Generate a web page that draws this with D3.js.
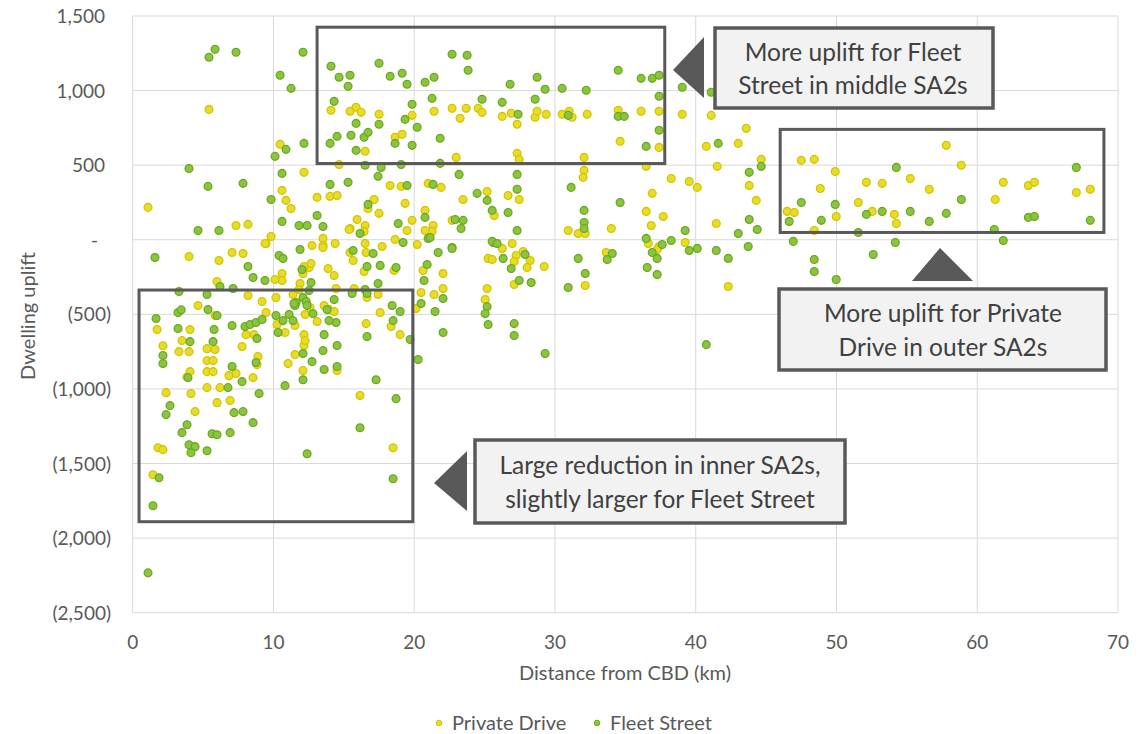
<!DOCTYPE html>
<html><head><meta charset="utf-8">
<script src="https://cdn.jsdelivr.net/npm/d3@7"></script>
<style>
html,body{margin:0;padding:0;background:#fff;}
svg{display:block;font-family:Lato,"Open Sans",sans-serif;}
</style></head>
<body><svg id="chart" width="1140" height="734"></svg>
<script>
// ---- data ----
const seriesNames = ["Private Drive", "Fleet Street"];
const xTicks = [0,10,20,30,40,50,60,70];
const yTicks = [1500,1000,500,0,-500,-1000,-1500,-2000,-2500];
const xTitle = "Distance from CBD (km)";
const yTitle = "Dwelling uplift";

// [distance km, dwelling uplift]
const privateDrive = [
[5.42,874],[14.09,868],[15.44,861],[15.87,888],[16.23,854],[17.50,841],[16.51,593],[10.47,640],[14.66,505],[12.17,452],[10.61,331],[10.89,264],[11.25,210],[13.10,284],[14.02,291],[14.52,297],[17.15,270],[16.72,210],[15.94,136],[16.51,96],[15.44,76],[16.44,56],[1.09,217],[7.34,96],[8.19,103],[9.83,22],[9.47,-25],[13.52,9],[13.52,-38],[14.38,-25],[12.74,-38],[17.50,177],
[19.85,834],[21.41,861],[22.69,881],[23.26,814],[23.69,881],[24.54,881],[24.82,854],[26.25,827],[26.89,848],[27.31,774],[28.59,821],[28.73,861],[29.37,841],[30.51,841],[31.01,861],[31.22,821],[32.29,841],[34.49,868],[36.12,861],[37.40,861],[39.04,841],[41.10,834],[34.63,660],[37.40,619],[40.75,626],[18.64,687],[19.14,707],[22.98,552],[27.31,579],[27.46,539],[32.07,552],[32.07,465],[32.00,418],[36.48,492],[38.26,411],[39.54,391],[40.11,351],[41.53,492],[18.29,364],[19.07,358],[20.99,378],[21.91,351],[19.35,244],[23.47,270],[26.67,297],[27.46,270],[25.68,163],[36.91,311],[36.48,190],[37.69,156],[36.84,96],[41.46,109],[19.49,62],[19.85,130],[20.77,197],[21.34,96],[21.27,56],[20.77,62],[22.69,130],[30.94,62],[31.65,42],[32.15,42],[34.00,76],[39.25,-18],[37.40,-45],[18.64,2],[17.72,-45],
[43.59,747],[43.02,646],[44.65,539],[43.80,364],[44.30,264],[47.50,532],[48.42,539],[49.91,458],[48.85,344],[52.12,385],[53.25,378],[55.24,411],[56.59,338],[57.80,633],[58.87,499],[51.55,250],[52.54,190],[54.11,170],[54.25,109],[49.98,156],[46.50,190],[47.00,183],[48.42,62],[61.85,385],[61.28,270],[63.63,364],[64.06,385],[67.04,317],[68.03,338],
[4.00,-112],[6.13,-139],[7.06,-85],[7.84,-92],[9.40,-25],[13.52,-52],[15.37,69],[16.51,-25],[15.44,-85],[15.66,-139],[16.58,-85],[20.21,-32],
[12.53,-186],[12.10,-226],[13.88,-193],[14.31,-240],[16.44,-213],[18.57,-206],[20.63,-206],[10.61,-226],[10.61,-273],[10.11,-266],[5.99,-280],[8.19,-374],[9.19,-414],[4.64,-441],[10.18,-387],[11.39,-367],[11.89,-293],[11.82,-334],[13.60,-441],[13.95,-468],[14.45,-327],[15.73,-327],[16.65,-387],[17.43,-367],[17.58,-488],[20.49,-354],[21.41,-367],[20.13,-461],[16.58,-562],[18.36,-582],[19.00,-636],[1.73,-602],[4.07,-602],[5.85,-508],[8.05,-636],[8.62,-636],[10.26,-568],[10.82,-622],[12.17,-636],[12.25,-501],[12.60,-454],[13.10,-548],[9.47,-488],
[25.18,324],[26.96,-25],[26.25,-58],[25.25,-125],[25.54,-132],[27.24,-105],[27.74,-79],[28.24,-139],[28.02,-186],[27.10,-146],[29.23,-179],[22.05,-226],[22.05,-327],[25.18,-327],[25.04,-401],[27.10,-300],[32.15,-307],[33.64,-85],[36.63,-25],[37.26,-65],[42.31,-313],
[12.17,-179],[12.67,-159],[14.31,-481],[3.50,-676],[3.29,-750],[4.00,-750],[2.15,-710],[5.28,-730],[5.85,-736],[5.28,-810],[5.71,-810],[4.07,-884],[3.86,-920],[5.28,-884],[5.71,-884],[6.84,-911],[7.34,-897],[7.77,-716],[8.90,-783],[8.55,-924],[11.53,-575],[11.53,-770],[12.17,-709],[12.10,-877],[14.52,-877],[2.37,-1025],[4.14,-1031],[5.28,-991],[6.20,-991],[5.99,-1092],[6.92,-1078],[4.43,-1152],[16.15,-1044],[1.80,-1394],[2.15,-1407],[1.44,-1575],[18.50,-1394],[12.25,-676],[11.04,-830],[8.83,-837]
];

const fleetStreet = [
[5.42,1223],[5.85,1277],[7.34,1257],[12.10,1257],[14.09,1163],[14.66,1089],[15.44,1103],[15.30,1029],[17.50,1183],[10.47,1103],[11.25,1015],[14.31,928],[15.87,780],[14.52,693],[15.51,700],[16.44,687],[16.72,720],[14.02,646],[15.87,599],[17.50,774],[12.17,646],[10.89,606],[10.11,559],[10.61,445],[16.51,499],[17.43,425],[14.02,371],[15.30,385],[4.00,478],[5.35,358],[7.84,378],[9.83,270],[16.72,237],[13.10,163],[10.61,123],[11.82,96],[12.39,96],[13.52,89],[16.15,42],[4.64,62],[6.13,62],
[18.29,1096],[19.14,1116],[19.49,1042],[20.77,1056],[21.41,1089],[22.69,1244],[23.76,1237],[23.83,1136],[26.81,1042],[28.73,1089],[29.30,1009],[30.51,1015],[32.22,1002],[34.49,1136],[36.12,1082],[36.91,1082],[37.40,1103],[37.40,962],[39.04,1022],[19.85,908],[21.27,948],[24.82,942],[26.25,921],[28.59,942],[27.38,841],[30.94,834],[34.49,827],[34.92,827],[19.35,807],[20.21,754],[18.64,646],[19.85,633],[21.84,680],[36.48,626],[37.40,734],[41.60,646],[17.65,485],[19.07,505],[21.84,512],[23.19,438],[27.31,438],[19.49,364],[21.34,371],[27.31,338],[31.15,351],[34.63,250],[24.47,311],[25.18,264],[25.54,197],[26.67,183],[32.07,197],[18.86,109],[20.77,150],[20.99,9],[22.91,136],[23.47,130],[23.33,76],[27.31,62],[32.07,116],[32.07,76],[39.25,62],[36.48,9],[38.26,-5],[37.62,-32],[19.21,-18],[25.61,-18],[22.69,-52],
[41.10,989],[43.80,452],[44.65,492],[43.80,136],[44.37,69],[43.02,42],[47.50,250],[49.91,237],[48.92,130],[46.64,123],[52.12,170],[53.25,190],[55.24,190],[54.25,485],[56.59,123],[57.80,177],[58.87,270],[61.21,69],[61.85,-5],[63.63,150],[64.06,156],[67.04,485],[68.03,130],[54.18,-18],[51.55,49],[46.93,-11],[48.42,-132],[48.42,-213],[49.98,-266],[52.61,-99],[21.13,15],
[1.58,-119],[8.19,-179],[10.40,-105],[10.68,-125],[11.89,-65],[12.03,-199],[8.55,-253],[9.40,-273],[6.20,-313],[3.29,-347],[5.28,-367],[7.13,-327],[12.67,-287],[15.66,-72],[17.08,-92],[16.65,-179],[17.58,-172],[18.71,-186],[20.92,-166],[20.70,-273],[21.70,-85],[17.43,-293],[12.53,-340],[16.51,-334],[16.65,-360],[15.59,-360],[12.10,-387],[11.61,-421],[11.53,-441],[12.32,-414],[14.31,-401],[13.81,-468],[12.81,-495],[18.43,-441],[19.00,-481],[20.49,-427],[21.48,-481],[18.50,-542],[3.22,-488],[3.45,-470],[1.66,-528],[3.22,-595],[5.35,-468],[5.99,-508],[5.78,-602],[7.06,-575],[7.98,-582],[8.34,-568],[8.76,-555],[9.19,-535],[10.18,-508],[10.68,-542],[10.33,-622],[11.11,-501],[11.39,-542],[11.46,-427],[13.60,-636],[14.45,-555],[13.95,-542],[16.65,-649],[19.71,-669],
[22.69,-58],[25.54,-11],[25.89,-25],[27.88,-99],[26.32,-125],[26.89,-193],[27.46,-273],[28.31,-287],[22.05,-394],[25.18,-448],[25.04,-495],[25.25,-568],[27.10,-562],[27.10,-642],[22.05,-622],[31.65,-125],[32.15,-226],[30.94,-320],[33.71,-132],[34.07,-92],[36.91,-85],[37.26,-125],[36.55,-186],[37.26,-233],[39.54,-72],[40.11,-58],[41.46,-72],[42.31,-125],[43.73,-45],
[4.07,-683],[5.71,-683],[8.83,-662],[12.39,-441],[13.52,-743],[14.52,-709],[17.29,-938],[2.15,-776],[2.15,-830],[3.93,-924],[7.06,-850],[7.77,-951],[8.76,-823],[12.10,-763],[12.74,-817],[12.10,-938],[13.60,-870],[14.52,-850],[10.82,-978],[6.77,-991],[8.98,-1031],[2.65,-1112],[2.37,-1172],[3.86,-1240],[3.50,-1293],[5.64,-1300],[5.99,-1307],[6.92,-1293],[7.20,-1159],[7.84,-1152],[8.55,-1226],[4.00,-1374],[4.43,-1387],[4.14,-1427],[5.28,-1414],[1.87,-1595],[16.15,-1260],[12.39,-1434],[20.28,-803],[18.71,-1065],[18.50,-1602],[1.44,-1783],[1.09,-2233],[40.75,-703],[29.30,-763]
];

// annotation regions in data units: [x0, x1, y0, y1]
const regionBoxes = [[13.1,37.8,511,1425],[46.0,69.0,49,740],[0.45,19.9,-1890,-337]];
const calloutLines = [
  ["More uplift for Fleet","Street in middle SA2s"],
  ["More uplift for Private","Drive in outer SA2s"],
  ["Large reduction in inner SA2s,","slightly larger for Fleet Street"]
];

// ---- drawing ----
const svg = d3.select("#chart");
const x = d3.scaleLinear().domain([0,70]).range([132.7,1118]);
const y = d3.scaleLinear().domain([-2500,1500]).range([612.7,16]);
const textCol = "#595959";
const colors = {fill:["#e8dc2a","#8cc43e"], stroke:["#d4c400","#6aa922"]};

// gridlines
const grid = svg.append("g").attr("stroke","#d9d9d9").attr("stroke-width",1);
grid.selectAll("line.v").data(xTicks).join("line")
  .attr("x1",d=>x(d)).attr("x2",d=>x(d)).attr("y1",y(1500)).attr("y2",y(-2500));
grid.selectAll("line.h").data(yTicks).join("line")
  .attr("y1",d=>y(d)).attr("y2",d=>y(d)).attr("x1",x(0)).attr("x2",x(70));

// x tick labels
svg.append("g").selectAll("text").data(xTicks).join("text")
  .attr("x",d=>x(d)).attr("y",649).attr("text-anchor","middle")
  .attr("font-size",19).attr("fill",textCol).text(d=>d);

// y tick labels (accounting style)
const fmt = d3.format(",");
svg.append("g").selectAll("text").data(yTicks).join("text")
  .attr("x",d=>d>0?105:(d===0?98:111)).attr("y",d=>y(d)+7).attr("text-anchor","end")
  .attr("font-size",19).attr("fill",textCol)
  .text(d=>d===0?"-":(d<0?"("+fmt(-d)+")":fmt(d)));

// axis titles
svg.append("text").attr("x",625).attr("y",680).attr("text-anchor","middle")
  .attr("font-size",20).attr("fill",textCol).text(xTitle);
svg.append("text").attr("transform","translate(35,316) rotate(-90)").attr("text-anchor","middle")
  .attr("font-size",20).attr("fill",textCol).text(yTitle);

// points
[privateDrive, fleetStreet].forEach((ser,i)=>{
  svg.append("g").selectAll("circle").data(ser).join("circle")
    .attr("cx",d=>x(d[0])).attr("cy",d=>y(d[1])).attr("r",3.9)
    .attr("fill",colors.fill[i]).attr("stroke",colors.stroke[i]).attr("stroke-width",1.3);
});

// region boxes
svg.append("g").selectAll("rect").data(regionBoxes).join("rect")
  .attr("x",d=>x(d[0])).attr("width",d=>x(d[1])-x(d[0]))
  .attr("y",d=>y(d[3])).attr("height",d=>y(d[2])-y(d[3]))
  .attr("fill","none").attr("stroke","#595959").attr("stroke-width",3);

// callouts
const callouts = [
  {box:[715,28,278,80], cx:853, base:[61,94], tri:[[673,70],[704,37],[704,98]]},
  {box:[779,289,327,81], cx:943, base:[322,356], tri:[[940,248],[912,281],[973,281]]},
  {box:[475,440,370,83], cx:660, base:[474,508], tri:[[434,483],[467,451],[467,511]]}
];
callouts.forEach((c,i)=>{
  const g = svg.append("g");
  g.append("rect").attr("x",c.box[0]).attr("y",c.box[1]).attr("width",c.box[2]).attr("height",c.box[3])
    .attr("fill","#f2f2f2").attr("stroke","#595959").attr("stroke-width",3.5);
  g.append("polygon").attr("points",c.tri.map(p=>p.join(",")).join(" ")).attr("fill","#595959");
  calloutLines[i].forEach((t,j)=>{
    g.append("text").attr("x",c.cx).attr("y",c.base[j]).attr("text-anchor","middle")
      .attr("font-size",24.5).attr("fill","#404040").text(t);
  });
});

// legend
const leg = svg.append("g");
const legX = [439, 597];
seriesNames.forEach((n,i)=>{
  leg.append("circle").attr("cx",legX[i]).attr("cy",723).attr("r",2.8)
    .attr("fill",colors.fill[i]).attr("stroke",colors.stroke[i]).attr("stroke-width",1);
  leg.append("text").attr("x",legX[i]+13).attr("y",730).attr("font-size",20)
    .attr("fill",textCol).text(n);
});
</script></body></html>
